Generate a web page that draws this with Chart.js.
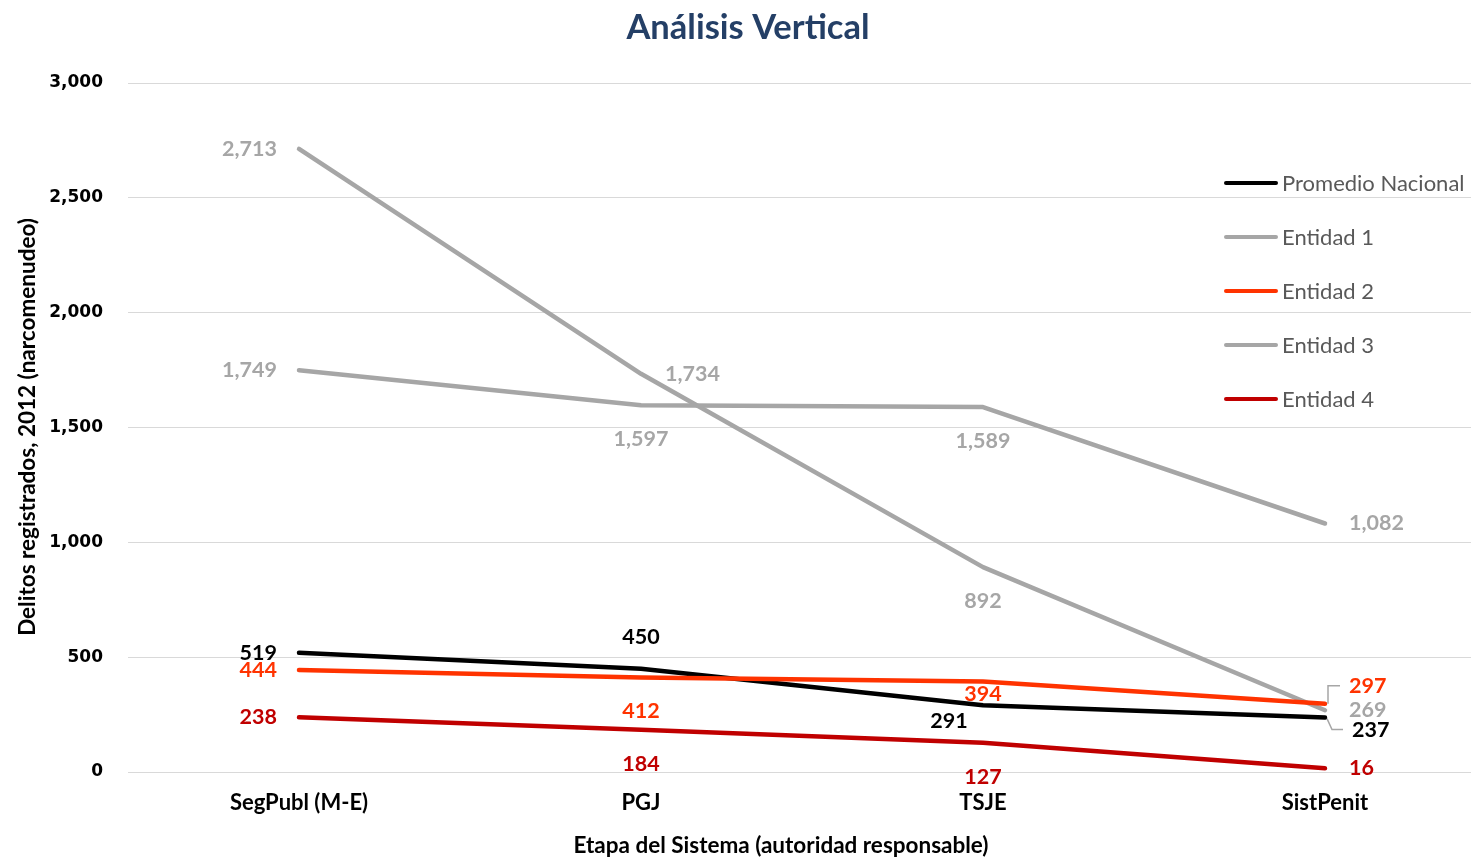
<!DOCTYPE html>
<html>
<head>
<meta charset="utf-8">
<script src="https://cdn.jsdelivr.net/npm/chart.js@4.4.0/dist/chart.umd.min.js"></script>
<style>
  html, body { margin: 0; padding: 0; background: #fff; overflow: hidden; }
  #wrap { width: 1496px; height: 860px; position: relative; }
</style>
</head>
<body>
<div id="wrap"><canvas id="chart"></canvas></div>
<script>
// data
const categories = ['SegPubl (M-E)', 'PGJ', 'TSJE', 'SistPenit'];
const seriesNames = ['Promedio Nacional', 'Entidad 1', 'Entidad 2', 'Entidad 3', 'Entidad 4'];
const promedioNacional = [519, 450, 291, 237];
const entidad1 = [2713, 1734, 892, 269];
const entidad2 = [444, 412, 394, 297];
const entidad3 = [1749, 1597, 1589, 1082];
const entidad4 = [238, 184, 127, 16];
const yTicks = [0, 500, 1000, 1500, 2000, 2500, 3000];

const seriesData = [promedioNacional, entidad1, entidad2, entidad3, entidad4];
const colors = ['#000000', '#A6A6A6', '#FF3300', '#A6A6A6', '#C00000'];

// label placement relative to each point: [dx, dy, align]
const labelPlacement = [
    [[-22, 0, 'right'], [0, -32, 'center'], [-34, 16, 'center'], [27, 12, 'left']],
    [[-22, 0, 'right'], [24, 0, 'left'], [0, 34, 'center'], [24, 0, 'left']],
    [[-22, 0, 'right'], [0, 34, 'center'], [0, 13, 'center'], [24, -18, 'left']],
    [[-22, 0, 'right'], [0, 34, 'center'], [0, 34, 'center'], [24, 0, 'left']],
    [[-22, 0, 'right'], [0, 34, 'center'], [0, 34, 'center'], [24, 0, 'left']]
];
// leader lines for moved labels: [series, point, path relative to point]
const leaders = [
    [2, 3, [[3, 0], [3, -18], [15, -18]]],
    [0, 3, [[2, 1], [7, 12], [18, 12]]]
];

const LABEL_FONT = 'bold 21.5px Lato';

const extras = {
    id: 'extras',
    afterDatasetsDraw(chart) {
        const ctx = chart.ctx;
        ctx.save();
        // leader lines
        ctx.strokeStyle = '#A6A6A6';
        ctx.lineWidth = 1.5;
        leaders.forEach(([s, i, path]) => {
            const p = chart.getDatasetMeta(s).data[i];
            ctx.beginPath();
            path.forEach(([dx, dy], k) => {
                if (k === 0) ctx.moveTo(p.x + dx, p.y + dy);
                else ctx.lineTo(p.x + dx, p.y + dy);
            });
            ctx.stroke();
        });
        // data labels
        ctx.font = LABEL_FONT;
        ctx.textBaseline = 'middle';
        seriesData.forEach((vals, s) => {
            const meta = chart.getDatasetMeta(s);
            ctx.fillStyle = colors[s];
            meta.data.forEach((pt, i) => {
                const [dx, dy, align] = labelPlacement[s][i];
                ctx.textAlign = align;
                ctx.fillText(vals[i].toLocaleString('en-US'), pt.x + dx, pt.y + dy);
            });
        });
        // legend inside the plot
        ctx.font = '22px Lato';
        ctx.textAlign = 'left';
        ctx.lineCap = 'round';
        seriesNames.forEach((name, s) => {
            const y = 183 + s * 54;
            ctx.strokeStyle = colors[s];
            ctx.lineWidth = 4;
            ctx.beginPath();
            ctx.moveTo(1226, y);
            ctx.lineTo(1276, y);
            ctx.stroke();
            ctx.fillStyle = '#595959';
            ctx.fillText(name, 1282, y + 1);
        });
        // axis titles
        ctx.fillStyle = '#000000';
        ctx.font = 'bold 22.5px Lato';
        ctx.textAlign = 'center';
        ctx.fillText('Etapa del Sistema (autoridad responsable)', 781, 846);
        ctx.translate(28, 427);
        ctx.rotate(-Math.PI / 2);
        ctx.fillText('Delitos registrados, 2012 (narcomenudeo)', 0, 0);
        ctx.restore();
    }
};

new Chart(document.getElementById('chart'), {
    type: 'line',
    data: {
        labels: categories,
        datasets: seriesData.map((vals, s) => ({
            label: seriesNames[s],
            data: vals,
            borderColor: colors[s],
            backgroundColor: colors[s],
            borderWidth: 4.5,
            pointRadius: 0,
            tension: 0,
            borderCapStyle: 'round',
            borderJoinStyle: 'round',
            order: seriesData.length - s
        }))
    },
    options: {
        responsive: true,
        maintainAspectRatio: false,
        animation: false,
        layout: { padding: 0 },
        plugins: {
            legend: { display: false },
            tooltip: { enabled: false },
            title: {
                display: true,
                text: 'Análisis Vertical',
                color: '#243F66',
                font: { family: 'Lato', size: 34.5, weight: 'bold', lineHeight: 1.2 },
                padding: { top: 7, bottom: 34.6 }
            }
        },
        scales: {
            x: {
                offset: true,
                grid: { display: false, drawTicks: false },
                border: { display: false },
                ticks: {
                    color: '#000000',
                    padding: 18,
                    font: { family: 'Lato', size: 22, weight: 'bold' }
                },
                afterFit(scale) { scale.height = 88; }
            },
            y: {
                min: 0,
                max: 3000,
                afterBuildTicks(scale) { scale.ticks = yTicks.map(v => ({ value: v })); },
                grid: { color: '#D9D9D9', lineWidth: 1, drawTicks: false },
                border: { display: false },
                ticks: {
                    color: '#000000',
                    padding: 25,
                    font: { family: 'DejaVu Sans', size: 17, weight: 'bold' },
                    callback: v => v.toLocaleString('en-US')
                },
                afterFit(scale) { scale.width = 128; }
            }
        }
    },
    plugins: [extras]
});
</script>
</body>
</html>
